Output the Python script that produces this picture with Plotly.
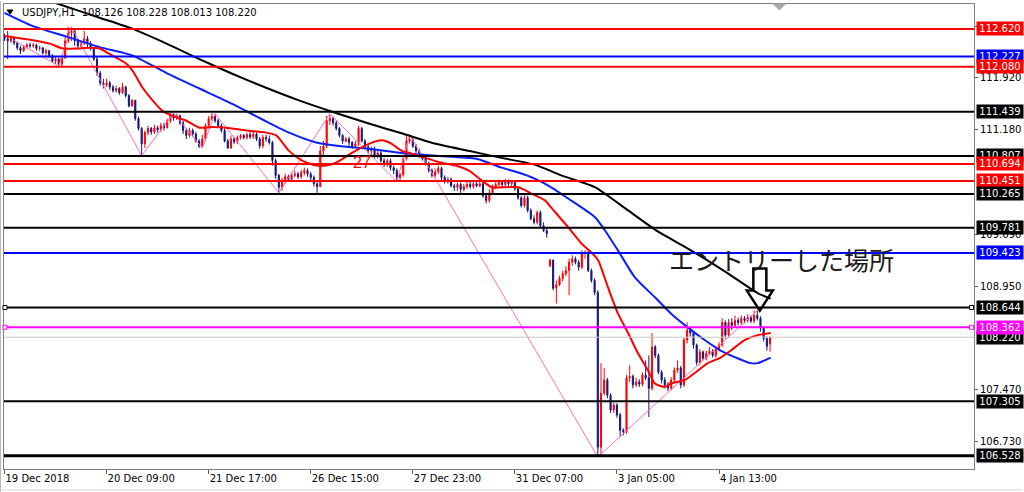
import plotly.graph_objects as go

# ---------------- data (USDJPY H1) ----------------
bar_open = [
    112.51, 112.48, 112.45, 112.49, 112.42, 112.35, 112.31, 112.36, 112.39, 112.38,
    112.39, 112.34, 112.35, 112.28, 112.31, 112.24, 112.16, 112.19, 112.12, 112.21,
    112.45, 112.56, 112.59, 112.45, 112.38, 112.42, 112.48, 112.41, 112.34, 112.19,
    111.99, 111.85, 111.82, 111.85, 111.79, 111.74, 111.77, 111.71, 111.79, 111.67,
    111.52, 111.60, 111.34, 111.20, 110.98, 111.14, 111.20, 111.15, 111.21, 111.18,
    111.24, 111.21, 111.31, 111.38, 111.35, 111.38, 111.28, 111.17, 111.10, 111.17,
    111.12, 111.02, 110.95, 111.05, 111.24, 111.34, 111.37, 111.31, 111.24, 111.17,
    111.02, 110.92, 111.05, 111.01, 111.07, 111.10, 111.07, 111.11, 111.08, 111.12,
    111.05, 110.95, 111.07, 111.05, 111.00, 110.74, 110.53, 110.36, 110.46, 110.51,
    110.47, 110.53, 110.55, 110.51, 110.57, 110.60, 110.55, 110.50, 110.41, 110.37,
    110.88, 110.95, 111.31, 111.34, 111.28, 111.20, 111.10, 111.02, 111.05, 111.00,
    110.95, 110.98, 111.20, 111.02, 110.94, 110.88, 110.91, 110.81, 110.85, 110.74,
    110.70, 110.74, 110.64, 110.60, 110.50, 110.54, 110.77, 111.02, 111.04, 110.95,
    110.88, 110.81, 110.77, 110.70, 110.60, 110.53, 110.58, 110.63, 110.50, 110.44,
    110.47, 110.38, 110.36, 110.40, 110.33, 110.37, 110.40, 110.37, 110.41, 110.38,
    110.41, 110.24, 110.17, 110.28, 110.36, 110.40, 110.43, 110.40, 110.44, 110.41,
    110.43, 110.34, 110.21, 110.10, 110.21, 110.03, 109.91, 109.86, 110.00, 109.81,
    109.74, 109.24, 109.32, 108.92, 108.97, 109.06, 109.13, 109.17, 109.29, 109.34,
    109.29, 109.22, 109.42, 109.43, 109.17, 109.03, 108.86, 106.65, 107.42, 107.61,
    107.39, 107.18, 107.25, 107.11, 106.89, 106.87, 107.64, 107.66, 107.54, 107.58,
    107.55, 107.68, 107.64, 107.49, 108.08, 107.96, 107.72, 107.61, 107.54, 107.49,
    107.61, 107.75, 107.78, 107.54, 108.18, 108.32, 108.28, 108.11, 107.86, 108.01,
    107.92, 107.99, 108.02, 107.96, 108.05, 108.11, 108.43, 108.25, 108.43, 108.39,
    108.46, 108.43, 108.49, 108.46, 108.50, 108.45, 108.53, 108.49, 108.35, 108.20,
    108.126,
]
bar_high = [
    112.55, 112.59, 112.52, 112.51, 112.44, 112.38, 112.39, 112.42, 112.42, 112.42,
    112.41, 112.38, 112.36, 112.34, 112.32, 112.26, 112.22, 112.21, 112.24, 112.51,
    112.65, 112.65, 112.62, 112.48, 112.45, 112.59, 112.52, 112.45, 112.36, 112.22,
    112.02, 111.91, 111.91, 111.88, 111.82, 111.81, 111.79, 111.85, 111.81, 111.69,
    111.62, 111.61, 111.37, 111.22, 111.17, 111.24, 111.22, 111.25, 111.24, 111.28,
    111.28, 111.34, 111.42, 111.42, 111.41, 111.40, 111.31, 111.20, 111.21, 111.20,
    111.15, 111.05, 111.11, 111.27, 111.38, 111.42, 111.41, 111.34, 111.27, 111.20,
    111.05, 111.10, 111.08, 111.10, 111.12, 111.12, 111.14, 111.15, 111.15, 111.14,
    111.08, 111.11, 111.11, 111.10, 111.02, 110.77, 110.55, 110.50, 110.55, 110.54,
    110.57, 110.60, 110.58, 110.61, 110.64, 110.63, 110.58, 110.53, 110.46, 110.95,
    111.02, 111.38, 111.41, 111.37, 111.31, 111.22, 111.12, 111.08, 111.08, 111.02,
    111.02, 111.24, 111.22, 111.05, 110.97, 110.94, 110.94, 110.88, 110.88, 110.78,
    110.77, 110.77, 110.67, 110.63, 110.57, 110.81, 111.10, 111.11, 111.07, 110.98,
    110.91, 110.84, 110.80, 110.73, 110.63, 110.63, 110.67, 110.65, 110.53, 110.51,
    110.50, 110.41, 110.43, 110.43, 110.41, 110.44, 110.44, 110.46, 110.46, 110.44,
    110.44, 110.27, 110.33, 110.40, 110.44, 110.47, 110.46, 110.48, 110.47, 110.46,
    110.46, 110.37, 110.24, 110.26, 110.24, 110.06, 109.96, 110.03, 110.03, 109.86,
    109.79, 109.34, 109.33, 109.03, 109.10, 109.17, 109.23, 109.34, 109.39, 109.37,
    109.32, 109.46, 109.46, 109.46, 109.20, 109.06, 108.89, 107.85, 107.78, 107.64,
    107.42, 107.29, 107.28, 107.14, 106.92, 107.68, 107.82, 107.69, 107.64, 107.62,
    107.72, 107.89, 107.96, 108.28, 108.11, 107.99, 107.75, 107.65, 107.58, 107.65,
    107.79, 107.89, 107.81, 108.22, 108.43, 108.36, 108.30, 108.13, 108.05, 108.03,
    108.03, 108.08, 108.05, 108.09, 108.15, 108.49, 108.46, 108.48, 108.49, 108.53,
    108.50, 108.53, 108.52, 108.55, 108.53, 108.60, 108.60, 108.52, 108.38, 108.23,
    108.228,
]
bar_low = [
    112.45, 112.19, 112.42, 112.39, 112.32, 112.26, 112.29, 112.34, 112.35, 112.35,
    112.31, 112.31, 112.25, 112.22, 112.21, 112.14, 112.12, 112.09, 112.09, 112.19,
    112.42, 112.45, 112.38, 112.34, 112.35, 112.39, 112.36, 112.31, 112.16, 111.95,
    111.81, 111.77, 111.79, 111.75, 111.71, 111.71, 111.68, 111.69, 111.64, 111.50,
    111.51, 111.31, 111.17, 110.81, 110.92, 111.10, 111.11, 111.12, 111.14, 111.15,
    111.17, 111.20, 111.28, 111.31, 111.32, 111.25, 111.12, 111.05, 111.07, 111.08,
    111.00, 110.92, 110.92, 111.02, 111.21, 111.31, 111.28, 111.21, 111.14, 111.00,
    110.91, 110.91, 110.98, 110.98, 111.04, 111.04, 111.04, 111.05, 111.05, 111.02,
    110.91, 110.92, 111.01, 110.97, 110.67, 110.48, 110.28, 110.31, 110.41, 110.44,
    110.44, 110.50, 110.48, 110.48, 110.53, 110.51, 110.46, 110.37, 110.28, 110.36,
    110.81, 110.92, 111.25, 111.24, 111.17, 111.07, 110.98, 111.00, 110.95, 110.91,
    110.92, 110.95, 111.00, 110.91, 110.84, 110.81, 110.77, 110.77, 110.71, 110.65,
    110.65, 110.60, 110.55, 110.44, 110.46, 110.51, 110.74, 110.98, 110.92, 110.85,
    110.78, 110.74, 110.67, 110.57, 110.50, 110.50, 110.55, 110.46, 110.41, 110.41,
    110.36, 110.31, 110.31, 110.28, 110.30, 110.34, 110.34, 110.34, 110.36, 110.36,
    110.21, 110.13, 110.14, 110.26, 110.33, 110.37, 110.37, 110.37, 110.38, 110.38,
    110.31, 110.18, 110.07, 110.07, 110.00, 109.89, 109.83, 109.83, 109.79, 109.72,
    109.64, 109.22, 108.89, 108.70, 108.95, 109.02, 109.09, 108.82, 109.24, 109.26,
    109.17, 109.19, 109.34, 109.15, 109.00, 108.82, 106.51, 106.54, 107.39, 107.35,
    107.14, 107.14, 107.07, 106.80, 106.82, 106.84, 107.58, 107.49, 107.51, 107.51,
    107.52, 107.61, 107.08, 107.46, 107.92, 107.69, 107.56, 107.49, 107.45, 107.46,
    107.58, 107.71, 107.49, 107.51, 108.13, 108.23, 108.06, 107.82, 107.83, 107.89,
    107.89, 107.96, 107.93, 107.93, 108.02, 108.08, 108.20, 108.22, 108.32, 108.36,
    108.39, 108.40, 108.42, 108.43, 108.42, 108.42, 108.46, 108.30, 108.16, 108.03,
    108.013,
]
bar_close = [
    112.48, 112.45, 112.49, 112.42, 112.35, 112.31, 112.36, 112.39, 112.38, 112.39,
    112.34, 112.35, 112.28, 112.31, 112.24, 112.16, 112.19, 112.12, 112.21, 112.45,
    112.56, 112.59, 112.45, 112.38, 112.42, 112.48, 112.41, 112.34, 112.19, 111.99,
    111.85, 111.82, 111.85, 111.79, 111.74, 111.77, 111.71, 111.79, 111.67, 111.52,
    111.60, 111.34, 111.20, 110.98, 111.14, 111.20, 111.15, 111.21, 111.18, 111.24,
    111.21, 111.31, 111.38, 111.35, 111.38, 111.28, 111.17, 111.10, 111.17, 111.12,
    111.02, 110.95, 111.05, 111.24, 111.34, 111.37, 111.31, 111.24, 111.17, 111.02,
    110.92, 111.05, 111.01, 111.07, 111.10, 111.07, 111.11, 111.08, 111.12, 111.05,
    110.95, 111.07, 111.05, 111.00, 110.74, 110.53, 110.36, 110.46, 110.51, 110.47,
    110.53, 110.55, 110.51, 110.57, 110.60, 110.55, 110.50, 110.41, 110.37, 110.88,
    110.95, 111.31, 111.34, 111.28, 111.20, 111.10, 111.02, 111.05, 111.00, 110.95,
    110.98, 111.20, 111.02, 110.94, 110.88, 110.91, 110.81, 110.85, 110.74, 110.70,
    110.74, 110.64, 110.60, 110.50, 110.54, 110.77, 111.02, 111.04, 110.95, 110.88,
    110.81, 110.77, 110.70, 110.60, 110.53, 110.58, 110.63, 110.50, 110.44, 110.47,
    110.38, 110.36, 110.40, 110.33, 110.37, 110.40, 110.37, 110.41, 110.38, 110.41,
    110.24, 110.17, 110.28, 110.36, 110.40, 110.43, 110.40, 110.44, 110.41, 110.43,
    110.34, 110.21, 110.10, 110.21, 110.03, 109.91, 109.86, 110.00, 109.81, 109.74,
    109.70, 109.32, 108.92, 108.97, 109.06, 109.13, 109.17, 109.29, 109.34, 109.29,
    109.22, 109.42, 109.43, 109.17, 109.03, 108.86, 106.65, 107.42, 107.61, 107.39,
    107.18, 107.25, 107.11, 106.89, 106.87, 107.64, 107.66, 107.54, 107.58, 107.55,
    107.68, 107.64, 107.49, 108.08, 107.96, 107.72, 107.61, 107.54, 107.49, 107.61,
    107.75, 107.78, 107.54, 108.18, 108.32, 108.28, 108.11, 107.86, 108.01, 107.92,
    107.99, 108.02, 107.96, 108.05, 108.11, 108.43, 108.25, 108.43, 108.39, 108.46,
    108.43, 108.49, 108.46, 108.50, 108.45, 108.53, 108.49, 108.35, 108.20, 108.09,
    108.220,
]

# moving averages (bar position, price)
ma_red_bar = [0, 8.9, 14.2, 18.3, 22.7, 26.7, 29.8, 33.0, 38.3, 40.2, 43.3, 46.4, 49.5, 52.7,
              57.0, 61.1, 65.2, 69.5, 75.8, 82.0, 85.2, 89.2, 93.3, 97.7, 100.8, 103.9, 108.9,
              114.2, 118.3, 121.4, 124.5, 127.7, 132.0, 137.0, 141.4, 145.5, 149.5, 152.7, 155.8,
              161.1, 165.2, 169.5, 171.4, 176.7, 180.8, 184.0, 186.1, 189.2, 192.3, 195.5, 198.6,
              201.7, 203.9, 207.0, 208.9, 213.3, 216.4, 220.5, 224.5, 227.7, 232.0, 236.1, 240.2]
ma_red_price = [112.52, 112.46, 112.41, 112.34, 112.34, 112.35, 112.34, 112.26, 112.12, 112.02,
                111.78, 111.60, 111.45, 111.38, 111.31, 111.21, 111.22, 111.21, 111.17, 111.14,
                111.10, 110.88, 110.74, 110.67, 110.67, 110.71, 110.85, 110.98, 111.03, 110.98,
                110.88, 110.84, 110.78, 110.71, 110.67, 110.60, 110.46, 110.36, 110.36, 110.36,
                110.27, 110.17, 110.07, 109.79, 109.56, 109.43, 109.32, 108.93, 108.56, 108.28,
                107.99, 107.75, 107.56, 107.51, 107.56, 107.61, 107.71, 107.85, 107.93, 108.03,
                108.18, 108.25, 108.28]
ma_blue_bar = [0, 8.9, 19.5, 29.8, 40.2, 50.8, 61.1, 71.4, 82.0, 89.2, 97.7, 104.8, 114.2, 124.5,
               135.2, 147.7, 151.7, 155.8, 161.1, 166.4, 171.4, 176.7, 185.2, 188.3, 192.3, 197.7,
               203.9, 208.9, 214.2, 219.5, 224.5, 229.8, 233.9, 236.1, 240.2]
ma_blue_price = [112.85, 112.66, 112.51, 112.36, 112.24, 111.99, 111.77, 111.55, 111.30, 111.14,
                 111.00, 110.95, 110.91, 110.85, 110.81, 110.77, 110.71, 110.64, 110.57, 110.48,
                 110.36, 110.20, 109.93, 109.74, 109.46, 109.07, 108.79, 108.56, 108.36, 108.18,
                 108.03, 107.92, 107.85, 107.85, 107.93]
ma_black_bar = [0, 16.7, 29.8, 40.2, 50.8, 61.1, 71.4, 82.0, 92.3, 103.9, 114.2, 124.5, 135.2,
                145.5, 155.8, 166.4, 174.5, 185.2, 195.5, 204.8, 215.2, 225.8, 236.1, 240.2]
ma_black_price = [113.23, 112.98, 112.78, 112.62, 112.41, 112.19, 111.98, 111.78, 111.60, 111.42,
                  111.27, 111.13, 110.98, 110.88, 110.78, 110.68, 110.53, 110.36, 110.03, 109.73,
                  109.46, 109.16, 108.85, 108.77]

# zigzag pivots
zz_bar = [2.5, 17, 21, 43, 53, 62, 66, 86, 102, 123, 127, 186, 236]
zz_price = [112.47, 112.09, 112.65, 110.81, 111.42, 110.92, 111.41, 110.28, 111.41, 110.44,
            111.11, 106.51, 108.60]

# horizontal levels
level_price = [112.620, 112.227, 112.080, 111.439, 110.807, 110.694, 110.451, 110.265,
               109.781, 109.423, 108.644, 108.362, 107.305, 106.528]
level_color = ["#ff0000", "#0000ff", "#ff0000", "#000000", "#000000", "#ff0000", "#ff0000",
               "#000000", "#000000", "#0000ff", "#000000", "#ff00ff", "#000000", "#000000"]
level_width = [2, 2, 2, 2, 2, 2, 2, 2, 2, 2, 2, 2, 2, 3]
bid_price = 108.220

ytick_vals = [112.660, 111.920, 111.180, 109.690, 108.950, 107.470, 106.730]
xtick_bars = [0, 32, 64, 96, 128, 160, 192, 224]
xtick_text = ["19 Dec 2018", "20 Dec 09:00", "21 Dec 17:00", "26 Dec 15:00",
              "27 Dec 23:00", "31 Dec 07:00", "3 Jan 05:00", "4 Jan 13:00"]

title_text = "USDJPY,H1\u00a0\u00a0108.126 108.228 108.013 108.220"
note_text = "エントリーした場所"

n = len(bar_close)
for nm, arr in (("open", bar_open), ("high", bar_high), ("low", bar_low)):
    if len(arr) != n:
        raise ValueError(f"{nm}: {len(arr)} != {n}")
bars = list(range(n))

FONT = "DejaVu Sans"
fig = go.Figure()

fig.add_trace(go.Scatter(x=zz_bar, y=zz_price, mode="lines",
                         line=dict(color="#ff6fc0", width=1), hoverinfo="skip"))

fig.add_trace(go.Candlestick(
    x=bars, open=bar_open, high=bar_high, low=bar_low, close=bar_close,
    increasing=dict(line=dict(color="#ff0000", width=1), fillcolor="#ff0000"),
    decreasing=dict(line=dict(color="#16167a", width=1), fillcolor="#16167a"),
    hoverinfo="skip"))

fig.add_trace(go.Scatter(x=ma_black_bar, y=ma_black_price, mode="lines",
                         line=dict(color="#000000", width=2, shape="spline", smoothing=0.6),
                         hoverinfo="skip"))
fig.add_trace(go.Scatter(x=ma_blue_bar, y=ma_blue_price, mode="lines",
                         line=dict(color="#0a1eff", width=2, shape="spline", smoothing=0.6),
                         hoverinfo="skip"))
fig.add_trace(go.Scatter(x=ma_red_bar, y=ma_red_price, mode="lines",
                         line=dict(color="#ff0000", width=2, shape="spline", smoothing=0.6),
                         hoverinfo="skip"))

shapes = []
# bid line
shapes.append(dict(type="line", xref="paper", yref="y", x0=0, x1=1, y0=bid_price, y1=bid_price,
                   line=dict(color="#c8c8c8", width=1)))
for p, c, w in zip(level_price, level_color, level_width):
    shapes.append(dict(type="line", xref="paper", yref="y", x0=0, x1=1, y0=p, y1=p,
                       line=dict(color=c, width=w)))
# selection handles on two levels
for p, c in ((108.644, "#000000"), (108.362, "#ff00ff")):
    for xa in (0.001, 0.9975):
        shapes.append(dict(type="rect", xref="paper", yref="y", xsizemode="pixel",
                           ysizemode="pixel", xanchor=xa, yanchor=p, x0=-2, x1=2, y0=-2, y1=2,
                           line=dict(color=c, width=1), fillcolor="white"))
# hollow down arrow pointing at the entry
shapes.append(dict(type="path", xref="x", yref="y", xsizemode="pixel", ysizemode="pixel",
                   xanchor=236.8, yanchor=108.60,
                   path="M -6.5 42 L 6.5 42 L 6.5 20 L 13 20 L 0 0 L -13 20 L -6.5 20 Z",
                   line=dict(color="#000000", width=2.5)))
# chart-shift marker
shapes.append(dict(type="path", xref="paper", yref="paper", xsizemode="pixel", ysizemode="pixel",
                   xanchor=0.7994, yanchor=1, path="M -6 0 L 6 0 L 0 -6 Z",
                   fillcolor="#a8a8a8", line=dict(color="#a8a8a8", width=1)))
# title triangle
shapes.append(dict(type="path", xref="paper", yref="paper", xsizemode="pixel", ysizemode="pixel",
                   xanchor=0, yanchor=1, path="M 3 -6 L 9 -6 L 6 -10 Z",
                   fillcolor="#000000", line=dict(color="#000000", width=1)))
# outer frame lines
shapes.append(dict(type="line", xref="paper", yref="paper", x0=-0.0036, x1=-0.0036,
                   y0=-0.049, y1=1.006, line=dict(color="#b8b8b8", width=1)))
shapes.append(dict(type="line", xref="paper", yref="paper", x0=-0.004, x1=1.05,
                   y0=-0.045, y1=-0.045, line=dict(color="#d8d8d8", width=1)))

annotations = []
annotations.append(dict(xref="paper", yref="paper", x=0.0165, y=0.9807, xanchor="left",
                        yanchor="middle", text=title_text, showarrow=False,
                        font=dict(family=FONT, size=10, color="#000000")))
annotations.append(dict(xref="x", yref="y", x=207.6, y=109.34, xanchor="left", yanchor="middle",
                        text=note_text, showarrow=False,
                        font=dict(family="Noto Sans CJK JP", size=25, color="#1a1a1a")))
annotations.append(dict(xref="x", yref="y", x=112.0, y=110.71, xanchor="center",
                        yanchor="middle", text="27", showarrow=False,
                        font=dict(family="Liberation Sans", size=16, color="#ff0000")))

label_items = [(bid_price, "#000000")]
label_items += sorted(zip(level_price, level_color), key=lambda t: -t[0])
for p, c in label_items:
    annotations.append(dict(xref="paper", yref="y", x=1.0, xshift=2, y=p, xanchor="left",
                            yanchor="middle", text=f"{p:.3f}", showarrow=False,
                            bgcolor=c, borderpad=1, width=44, height=11, align="center",
                            font=dict(family=FONT, size=10, color="#ffffff")))

fig.update_layout(
    width=1024, height=492,
    margin=dict(l=4, r=48, t=3, b=23),
    paper_bgcolor="white", plot_bgcolor="white",
    showlegend=False, boxgap=0.5,
    shapes=shapes, annotations=annotations,
    xaxis=dict(range=[-0.16, 303.94], showgrid=False, zeroline=False,
               rangeslider=dict(visible=False), tickmode="array", tickvals=xtick_bars,
               ticktext=xtick_text, ticks="outside", ticklen=4, tickcolor="#606060",
               ticklabelposition="outside right", showline=True, linecolor="#808080",
               mirror=True, tickfont=dict(family=FONT, size=10, color="#000000")),
    yaxis=dict(range=[106.339, 112.976], side="right", tickmode="array", tickvals=ytick_vals,
               ticktext=[f"{v:.3f}" for v in ytick_vals], ticks="outside", ticklen=3,
               tickcolor="#606060", showgrid=False, zeroline=False, showline=True,
               linecolor="#808080", mirror=True,
               tickfont=dict(family=FONT, size=10, color="#000000")),
)

fig.write_html("out.html", config={"displayModeBar": False},
               post_script="document.body.style.margin='0';document.body.style.overflow='hidden';")
